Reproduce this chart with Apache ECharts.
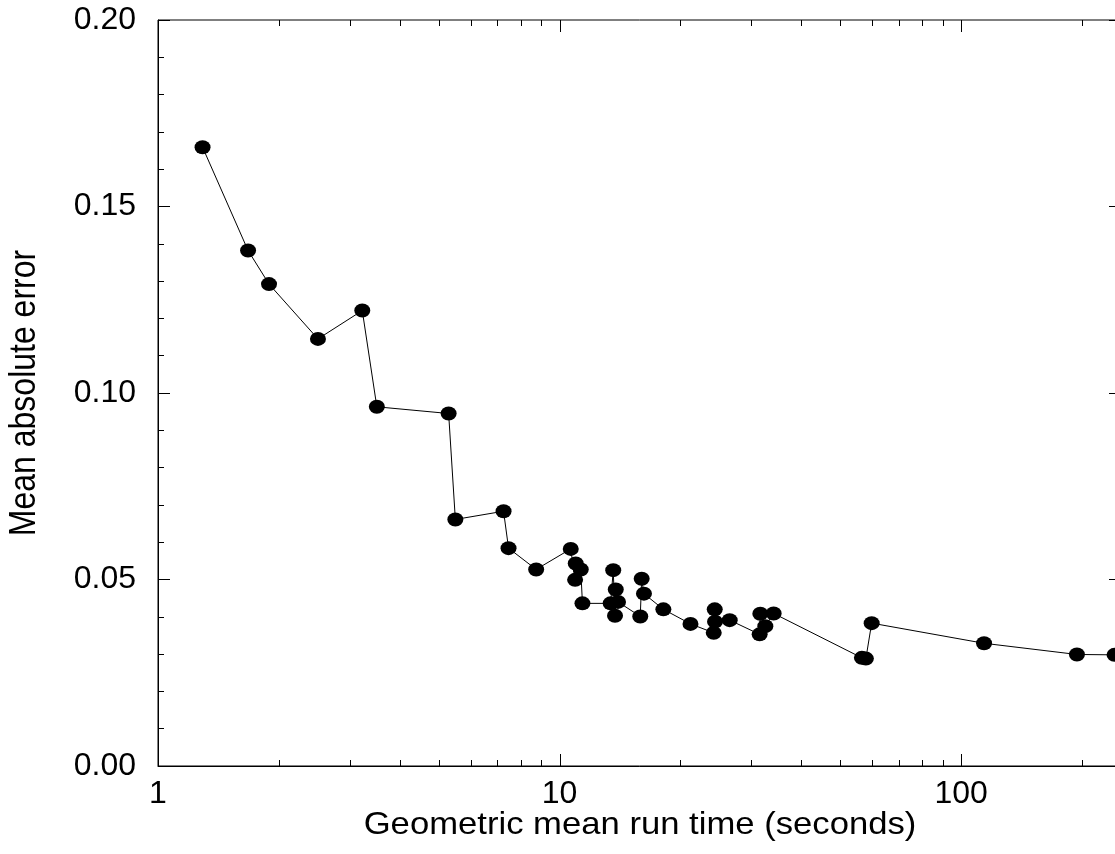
<!DOCTYPE html>
<html>
<head>
<meta charset="utf-8">
<script src="https://cdn.jsdelivr.net/npm/echarts@6/dist/echarts.min.js"></script>
<style>
html,body{margin:0;padding:0;background:#fff;overflow:hidden;width:1115px;height:854px;}
#chart{width:1124px;height:854px;}
</style>
</head>
<body>
<div id="chart"></div>
<script>
// Data (sorted by run time)
const runTime = [1.291, 1.676, 1.890, 2.502, 3.226, 3.507, 5.293, 5.501, 7.252, 7.462, 8.743,
  10.66, 10.93, 10.97, 11.29, 11.40, 13.40, 13.60, 13.74, 13.80, 13.98,
  15.88, 16.01, 16.22, 18.13, 21.18, 24.20, 24.34, 24.38, 26.52,
  31.49, 31.61, 32.53, 34.12, 56.59, 57.90, 59.85, 114.0, 194.2, 240.9];
const meanError = [0.1659, 0.1382, 0.1292, 0.1145, 0.1221, 0.0963, 0.0945, 0.0661, 0.0683, 0.0584, 0.0527,
  0.0582, 0.0499, 0.0543, 0.0527, 0.0436, 0.0436, 0.0525, 0.0403, 0.0473, 0.0440,
  0.0401, 0.0502, 0.0462, 0.0420, 0.0381, 0.0357, 0.0420, 0.0387, 0.0391,
  0.0353, 0.0408, 0.0375, 0.0409, 0.0290, 0.0288, 0.0383, 0.0329, 0.0299, 0.0298];
const xMajorTicks = [1, 10, 100];
const xMinorTicks = [2, 3, 4, 5, 6, 7, 8, 9, 20, 30, 40, 50, 60, 70, 80, 90, 200];
const xTitle = 'Geometric mean run time (seconds)';
const yTitle = 'Mean absolute error';

const X_MIN = 1, X_MAX = 250, Y_MIN = 0, Y_MAX = 0.2;
const FONT = '"Liberation Sans", Arial, sans-serif';

function tickSeries(values, len) {
  return {
    type: 'custom',
    silent: true,
    clip: false,
    z: 5,
    data: values.map(v => [v]),
    encode: { x: 0 },
    renderItem: function (params, api) {
      const v = api.value(0);
      const b = api.coord([v, Y_MIN]);
      const t = api.coord([v, Y_MAX]);
      const x = Math.round(b[0]) + 0.5;
      return {
        type: 'group',
        children: [
          { type: 'line', shape: { x1: x, y1: b[1], x2: x, y2: b[1] - len }, style: { stroke: '#000', lineWidth: 1 } },
          { type: 'line', shape: { x1: x, y1: t[1], x2: x, y2: t[1] + len }, style: { stroke: '#000', lineWidth: 1 } }
        ]
      };
    }
  };
}

const chart = echarts.init(document.getElementById('chart'), null, { renderer: 'canvas' });
chart.setOption({
  animation: false,
  backgroundColor: '#fff',
  grid: { left: 158, right: 1, top: 20, bottom: 88, show: true, borderColor: '#000', borderWidth: 1, containLabel: false },
  xAxis: {
    type: 'log', logBase: 10, min: X_MIN, max: X_MAX,
    axisLine: { show: true, lineStyle: { color: '#000', width: 1 } },
    axisTick: { show: false },
    splitLine: { show: false },
    axisLabel: {
      margin: 12, color: '#000', fontSize: 32, fontFamily: FONT,
      formatter: function (v) {
        const l = Math.log10(v);
        return Math.abs(l - Math.round(l)) < 1e-6 ? String(Math.round(v)) : '';
      }
    }
  },
  yAxis: [{
    type: 'value', min: Y_MIN, max: Y_MAX, interval: 0.05, position: 'left',
    axisLine: { show: true, lineStyle: { color: '#000', width: 1 } },
    axisTick: { show: true, inside: true, length: 12, lineStyle: { color: '#000' } },
    minorTick: { show: true, splitNumber: 5, length: 6, lineStyle: { color: '#000' } },
    splitLine: { show: false },
    axisLabel: { margin: 22, color: '#000', fontSize: 32, fontFamily: FONT, formatter: v => v.toFixed(2) }
  }, {
    type: 'value', min: Y_MIN, max: Y_MAX, interval: 0.05, position: 'right',
    axisLine: { show: true, lineStyle: { color: '#000', width: 1 } },
    axisTick: { show: true, inside: true, length: 12, lineStyle: { color: '#000' } },
    minorTick: { show: true, splitNumber: 5, length: 6, lineStyle: { color: '#000' } },
    splitLine: { show: false },
    axisLabel: { show: false }
  }],
  graphic: [
    { type: 'text', x: 640, y: 825, scaleX: 1.1, style: { text: xTitle, font: '31.5px ' + FONT, fill: '#000', textAlign: 'center', textVerticalAlign: 'middle' } },
    { type: 'text', x: 25, y: 393, rotation: Math.PI / 2, scaleY: 1.17, style: { text: yTitle, font: '32px ' + FONT, fill: '#000', textAlign: 'center', textVerticalAlign: 'middle' } }
  ],
  series: [
    tickSeries(xMinorTicks, 6),
    tickSeries(xMajorTicks, 12),
    {
      type: 'line',
      data: runTime.map((x, i) => [x, meanError[i]]),
      symbol: 'circle',
      symbolSize: [16, 14],
      showAllSymbol: true,
      itemStyle: { color: '#000' },
      lineStyle: { color: '#000', width: 1 },
      z: 3
    }
  ]
});
</script>
</body>
</html>
